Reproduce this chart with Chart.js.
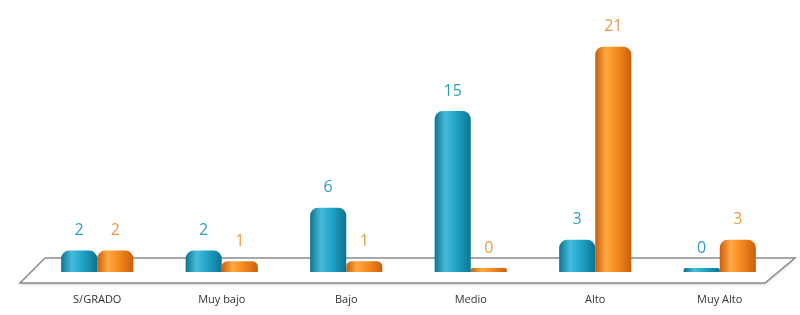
<!DOCTYPE html>
<html>
<head>
<meta charset="utf-8">
<script src="https://cdn.jsdelivr.net/npm/chart.js@4/dist/chart.umd.min.js"></script>
<style>
  html, body { margin: 0; padding: 0; background: #fff; overflow: hidden; }
  canvas { display: block; }
</style>
</head>
<body>
<canvas id="myChart" width="800" height="315"></canvas>
<script>
var categories = ["S/GRADO", "Muy bajo", "Bajo", "Medio", "Alto", "Muy Alto"];
var serieA = [2, 2, 6, 15, 3, 0];
var serieB = [2, 1, 1, 0, 21, 3];
var seriesNames = ["Serie 1", "Serie 2"];

var tealDark = "#0f7391", tealMid = "#1fa3c6", tealLight = "#45bcdb";
var orangeDark = "#c9600c", orangeMid = "#f58a1f", orangeLight = "#ffa844";

// horizontal gradient across each bar, like a cylinder
function barFill(ctx, dark, mid, light, side) {
  var chart = ctx.chart;
  var xs = chart.scales.x;
  if (!xs || xs.width === undefined || ctx.dataIndex === undefined) return mid;
  var cat = xs.width / categories.length;
  var bw = cat * 0.58 / 2;
  var c = xs.getPixelForValue(ctx.dataIndex) + side * bw / 2;
  var x0 = c - bw / 2, x1 = c + bw / 2;
  if (!isFinite(x0)) return mid;
  var g = chart.ctx.createLinearGradient(x0, 0, x1, 0);
  g.addColorStop(0, dark);
  g.addColorStop(0.3, light);
  g.addColorStop(0.6, mid);
  g.addColorStop(1, dark);
  return g;
}

// the 3D floor under the bars
var floorPlugin = {
  id: "floor",
  beforeDatasetsDraw: function (chart) {
    var a = chart.chartArea, c = chart.ctx;
    var by = a.bottom - 14, fy = a.bottom + 11;
    c.save();
    c.beginPath();
    c.moveTo(a.left + 10, by);
    c.lineTo(a.right + 13, by);
    c.lineTo(a.right - 17, fy);
    c.lineTo(a.left - 15, fy);
    c.closePath();
    c.fillStyle = "#ffffff";
    c.shadowColor = "rgba(0,0,0,0.15)";
    c.shadowOffsetY = 2;
    c.shadowBlur = 3;
    c.fill();
    c.shadowColor = "transparent";
    c.strokeStyle = "#8a8a8a";
    c.lineWidth = 1.5;
    c.stroke();
    c.restore();
  }
};

// value labels above the bars
var valuePlugin = {
  id: "values",
  afterDatasetsDraw: function (chart) {
    var c = chart.ctx;
    c.save();
    c.font = "16px 'Open Sans', sans-serif";
    c.textAlign = "center";
    c.textBaseline = "middle";
    chart.data.datasets.forEach(function (ds, i) {
      chart.getDatasetMeta(i).data.forEach(function (bar, j) {
        c.fillStyle = i === 0 ? "#2b9fbf" : "#ee9a45";
        c.fillText(ds.data[j], bar.x, bar.y - 20);
      });
    });
    c.restore();
  }
};

new Chart("myChart", {
  type: "bar",
  data: {
    labels: categories,
    datasets: [{
      label: seriesNames[0],
      data: serieA,
      backgroundColor: function (ctx) { return barFill(ctx, tealDark, tealMid, tealLight, -1); },
      borderWidth: 0,
      borderRadius: { topLeft: 8, topRight: 8 },
      borderSkipped: "bottom",
      minBarLength: 4,
      barPercentage: 1,
      categoryPercentage: 0.58
    }, {
      label: seriesNames[1],
      data: serieB,
      backgroundColor: function (ctx) { return barFill(ctx, orangeDark, orangeMid, orangeLight, 1); },
      borderWidth: 0,
      borderRadius: { topLeft: 8, topRight: 8 },
      borderSkipped: "bottom",
      minBarLength: 4,
      barPercentage: 1,
      categoryPercentage: 0.58
    }]
  },
  options: {
    responsive: false,
    animation: false,
    layout: { padding: { left: 35, right: 18, top: 36, bottom: 0 } },
    plugins: {
      legend: { display: false },
      title: { display: false },
      tooltip: { enabled: false }
    },
    scales: {
      x: {
        grid: { display: false, drawTicks: false },
        border: { display: false },
        afterFit: function (scale) { scale.height = 43; },
        ticks: {
          padding: 21,
          color: "#333",
          font: { family: "'Open Sans', sans-serif", size: 11 }
        }
      },
      y: {
        display: false,
        min: 0,
        max: 22
      }
    }
  },
  plugins: [floorPlugin, valuePlugin]
});
</script>
</body>
</html>
